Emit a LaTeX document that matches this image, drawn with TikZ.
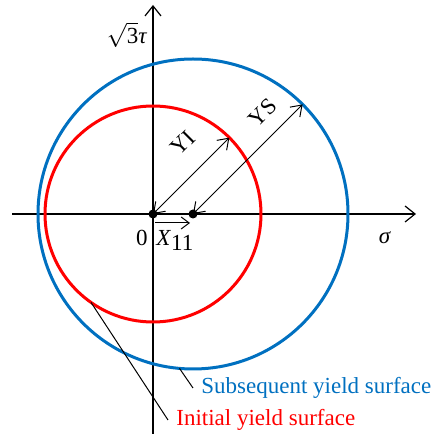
\documentclass[tikz,border=0pt]{standalone}
\usepackage{fontspec}
\setmainfont{Liberation Serif}
\usetikzlibrary{arrows.meta, calc, positioning}
\definecolor{initcol}{RGB}{255, 0, 0}
\definecolor{subcol}{RGB}{0, 112, 192}
\definecolor{linecol}{RGB}{0, 0, 0}
\tikzset{
  axis/.style     = {-{Straight Barb[length=5pt, width=8pt]}, draw=linecol,
                     line width=0.6pt},
  surf/.style     = {line width=1.5pt},
  radarrow/.style = {{Straight Barb[length=5pt, width=7pt]}-{Straight Barb[length=5pt, width=7pt]},
                     draw=linecol, line width=0.5pt},
  vec/.style      = {-{Straight Barb[length=4pt, width=6pt]}, draw=linecol,
                     line width=0.5pt},
  lead/.style     = {draw=linecol, line width=0.5pt},
  lbl/.style      = {font=\fontsize{11.5}{13}\selectfont, inner sep=1pt},
  surflbl/.style  = {lbl, anchor=west, inner sep=4pt},
  dot/.style      = {circle, fill=linecol, inner sep=0pt, minimum size=4.5pt},
}

\begin{document}
\begin{tikzpicture}[x=0.5pt, y=0.5pt]
  \useasboundingbox (0,0) rectangle (435,434);

  %% ---------------- axes ----------------
  \coordinate (O) at (153,220);
  \coordinate (C) at (193,220);
  \coordinate (xl) at (12,220);
  \coordinate (xr) at (416,220);
  \coordinate (yb) at (153,0);
  \coordinate (yt) at (153,429);
  \draw[axis] (xl) -- (xr);
  \draw[axis] (yb) -- (yt);
  \node[lbl] (sig) at (385,196) {\textit{σ}};
  \node[lbl] (tau) at (127,399) {$\sqrt{\mbox{3}}$\textit{τ}};

  %% ---------------- yield surfaces ----------------
  \draw[surf, draw=subcol] (C) circle[radius=155];
  \draw[surf, draw=initcol] (O) circle[radius=108];

  \node[dot] (orig) at (O) {};
  \node[dot] (ctr) at (C) {};
  \node[lbl] (zero) at (142,196) {0};
  \node[lbl, anchor=west] (x11) at (154,194) {\textit{X}\raisebox{-2.5pt}{11}};
  % back stress: the small arrow over X
  \coordinate (vs) at (155,211);
  \coordinate (ve) at (190,211);
  \draw[vec] (vs) -- (ve);

  % radii
  \draw[radarrow] (orig.center) -- ($(O)+(45:108)$);
  \draw[radarrow] (ctr.center) -- ($(C)+(45:155)$);
  \node[lbl, rotate=45] (yi) at (183,291) {YI};
  \node[lbl, rotate=45] (ys) at (263,321) {YS};

  %% ---------------- leaders ----------------
  \node[surflbl, text=subcol] (subs) at (193,46) {Subsequent yield surface};
  \node[surflbl, text=initcol] (init) at (168,14) {Initial yield surface};
  \draw[lead] ($(C)+(265:155)$) -- (subs.west);
  \draw[lead] ($(O)+(235:108)$) -- (init.west);

\end{tikzpicture}
\end{document}
